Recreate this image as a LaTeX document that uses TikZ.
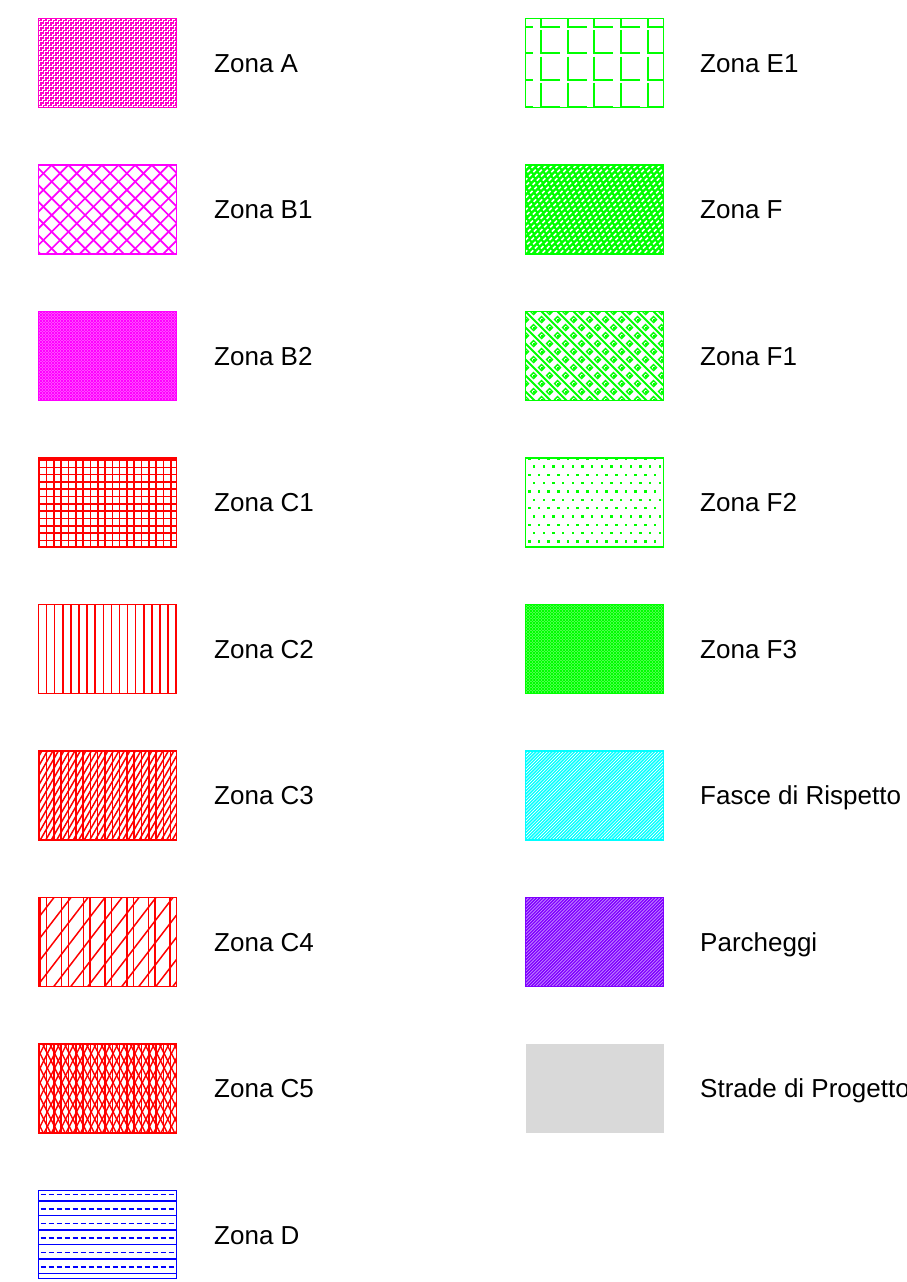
\documentclass[tikz,border=0pt]{standalone}
\usepackage{fontspec}
\setmainfont{Liberation Sans}
\definecolor{cA}{RGB}{255,0,200}
\definecolor{cM}{RGB}{255,0,255}
\definecolor{cR}{RGB}{255,0,0}
\definecolor{cB}{RGB}{0,0,255}
\definecolor{cG}{RGB}{0,255,0}
\definecolor{cC}{RGB}{0,255,255}
\definecolor{cP}{RGB}{127,0,255}
\definecolor{cS}{RGB}{217,217,217}
\tikzset{
 swatch/.style={rectangle, anchor=north west, minimum width=138pt, minimum height=89pt, inner sep=0pt, outer sep=0pt},
 lbl/.style={anchor=base west, font=\fontsize{26}{30}\selectfont, inner sep=0pt, text=black},
 border/.style={line width=1.9pt},
}
% one swatch: #1 node name, #2 border colour, #3 fill colour, #4 pattern
\newcommand\sw[4]{%
 \fill[#3] (#1.north west) rectangle (#1.south east);
 \begin{scope}
  \clip (#1.north west) rectangle (#1.south east);
  \begin{scope}[shift={(#1.north west)}]#4\end{scope}
 \end{scope}
 \draw[#2, border] (#1.north west) rectangle (#1.south east);}
% patterns, local coords: x right, y down, origin at top-left of swatch
\newcommand\pzA{%
 \foreach \k in {0,...,47} {\draw[cA, line width=1.3pt] ({-95+5*\k},92) \foreach \i in {1,...,38}{ -- ++(2.5,0) -- ++(0,-2.5)};}}
\newcommand\pzBa{%
 \foreach \k in {-6,...,14} {\draw[cM, line width=1.7pt] ({13.2+16.7*\k},0) -- ++(95,95);
   \draw[cM, line width=1.7pt] ({13.2+16.7*\k},0) -- ++(-95,95);}}
\newcommand\pzBb{%
 \foreach \k in {0,...,77} {\draw[cM, line width=1pt] ({-94+3*\k},0) -- ++(95,95);
   \draw[cM, line width=1pt] ({3*\k},0) -- ++(-95,95);}}
\newcommand\pzCa{%
 \foreach \k in {0,...,19} {\draw[cR, line width=1.6pt] ({0.8+7.3*\k},0) -- ++(0,95);}
 \foreach \k in {0,...,12} {\draw[cR, line width=1.6pt] (0,{2+7.3*\k}) -- ++(140,0);}}
\newcommand\pzCb{%
 \foreach \k in {0,...,17} {\draw[cR, line width=1.5pt] ({8.1*\k},0) -- ++(0,95);}}
\newcommand\pzCc{%
 \foreach \k in {0,...,19} {\draw[cR, line width=1.5pt] ({0.8+7.3*\k},0) -- ++(0,95);}
 \foreach \k in {0,...,35} {\draw[cR, line width=1.5pt] ({-55+5.5*\k},92) -- ++(54,-94);}}
\newcommand\pzCd{%
 \foreach \k in {0,...,6} {\draw[cR, line width=1.5pt] ({1.5+21.7*\k},0) -- ++(0,95);
   \draw[cR, line width=1.5pt] ({8.1+21.7*\k},0) -- ++(0,95);}
 \foreach \k in {0,...,13} {\draw[cR, line width=1.5pt] ({-72+17*\k},92) -- ++(72,-94);}}
\newcommand\pzCe{%
 \foreach \k in {0,...,19} {\draw[cR, line width=1.5pt] ({0.8+7.3*\k},0) -- ++(0,95);}
 \foreach \k in {0,...,32} {\draw[cR, line width=1.4pt] ({-47+7.3*\k},92) -- ++(47,-94);
   \draw[cR, line width=1.4pt] ({-47+7.3*\k},0) -- ++(47,94);}}
\newcommand\pzD{%
 \foreach \k in {0,...,5} {\draw[cB, line width=1.5pt] (0,{10.7+14.5*\k}) -- ++(140,0);
   \draw[cB, line width=1.5pt, dash pattern=on 5pt off 3pt] (2,{3.8+14.5*\k}) -- ++(140,0);}}
\newcommand\pzE{%
 \foreach \i in {0,...,5} {\foreach \j in {0,...,3} {
   \draw[cG, line width=1.8pt] ({-11.2+26.67*\i},{8.2+26.67*\j-23.3}) -- ({-11.2+26.67*\i},{8.2+26.67*\j}) -- ++(19,0);}}}
\newcommand\pzF{%
 \foreach \k in {0,...,40} {\draw[white, line width=1.6pt, dash pattern=on 3.5pt off 2.5pt] ({-95+6*\k},92) -- ++(95,-95);}}
\newcommand\pzFa{%
 \foreach \k in {-6,...,9} {\draw[cG, line width=2pt] ({16*\k},0) -- ++(95,95);}
 \foreach \a in {-6,...,9} {\foreach \b in {0,...,11} {
   \draw[cG, line width=1.4pt] ({8+16*\a+8*\b-3},{8*\b}) -- ++(3,-3) -- ++(3,3) -- ++(-3,3) -- cycle;
   \fill[cG] ({8+16*\a+8*\b-1},{8*\b-1}) rectangle ++(2,2);}}}
\newcommand\pzFb{%
 \foreach \r in {0,...,10} {\pgfmathsetmacro\xs{3.8+4.8*mod(\r,2)}
   \foreach \m in {0,...,14} {\fill[cG] ({\xs+9.67*\m-1.2},{0.3+8.33*\r-1.2}) rectangle ++(2.4,2.4);}}}
\newcommand\pzFc{%
 \foreach \k in {0,...,77} {\draw[cG, line width=1pt] ({-94+3*\k},0) -- ++(95,95);
   \draw[cG, line width=1pt] ({3*\k},0) -- ++(-95,95);}}
\newcommand\pzH[1]{%
 \foreach \k in {0,...,75} {\draw[#1, line width=0.6pt] ({-95+3.2*\k},92) -- ++(95,-95);}}
\begin{document}
\begin{tikzpicture}[x=1pt,y=-1pt]
\useasboundingbox (0,0) rectangle (906,1282);
% swatch boxes (named)
\node[swatch] (sA) at (38.5,18.5) {};
\node[swatch] (sB1) at (38.5,165) {};
\node[swatch] (sB2) at (38.5,311.5) {};
\node[swatch] (sC1) at (38.5,458) {};
\node[swatch] (sC2) at (38.5,604.5) {};
\node[swatch] (sC3) at (38.5,751) {};
\node[swatch] (sC4) at (38.5,897.5) {};
\node[swatch] (sC5) at (38.5,1044) {};
\node[swatch, minimum height=88pt] (sD) at (38.5,1190.5) {};
\node[swatch] (sE1) at (525.5,18.5) {};
\node[swatch] (sF) at (525.5,165) {};
\node[swatch] (sF1) at (525.5,311.5) {};
\node[swatch] (sF2) at (525.5,458) {};
\node[swatch] (sF3) at (525.5,604.5) {};
\node[swatch] (sFR) at (525.5,751) {};
\node[swatch] (sP) at (525.5,897.5) {};
\node[swatch, fill=cS] (sS) at (525.5,1044) {};
% patterns and borders
\sw{sA}{cA}{white}{\pzA}
\sw{sB1}{cM}{white}{\pzBa}
\sw{sB2}{cM}{cM!50}{\pzBb}
\sw{sC1}{cR}{white}{\pzCa}
\sw{sC2}{cR}{white}{\pzCb}
\sw{sC3}{cR}{white}{\pzCc}
\sw{sC4}{cR}{white}{\pzCd}
\sw{sC5}{cR}{white}{\pzCe}
\sw{sD}{cB}{white}{\pzD}
\sw{sE1}{cG}{white}{\pzE}
\sw{sF}{cG}{cG}{\pzF}
\sw{sF1}{cG}{white}{\pzFa}
\sw{sF2}{cG}{white}{\pzFb}
\sw{sF3}{cG}{cG!50}{\pzFc}
\sw{sFR}{cC}{cC}{\pzH{white}}
\sw{sP}{cP}{cP}{\pzH{cP!40!white}}
% labels
\node[lbl] (lA) at (214,72.3) {Zona A};
\node[lbl] (lB1) at (214,218.8) {Zona B1};
\node[lbl] (lB2) at (214,365.3) {Zona B2};
\node[lbl] (lC1) at (214,511.8) {Zona C1};
\node[lbl] (lC2) at (214,658.3) {Zona C2};
\node[lbl] (lC3) at (214,804.8) {Zona C3};
\node[lbl] (lC4) at (214,951.3) {Zona C4};
\node[lbl] (lC5) at (214,1097.8) {Zona C5};
\node[lbl] (lD) at (214,1244.3) {Zona D};
\node[lbl] (lE1) at (700,72.3) {Zona E1};
\node[lbl] (lF) at (700,218.8) {Zona F};
\node[lbl] (lF1) at (700,365.3) {Zona F1};
\node[lbl] (lF2) at (700,511.8) {Zona F2};
\node[lbl] (lF3) at (700,658.3) {Zona F3};
\node[lbl] (lFR) at (700,804.8) {Fasce di Rispetto};
\node[lbl] (lP) at (700,951.3) {Parcheggi};
\node[lbl] (lS) at (700,1097.8) {Strade di Progetto};
\end{tikzpicture}
\end{document}
